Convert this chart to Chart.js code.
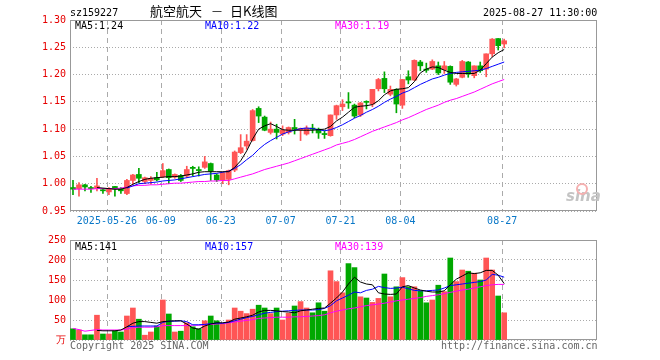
<!DOCTYPE html>
<html>
<head>
<meta charset="utf-8">
<script src="https://cdn.jsdelivr.net/npm/chart.js@4/dist/chart.umd.min.js"></script>
<style>
  body { margin: 0; background: #fff; }
  #wrap { position: relative; width: 660px; height: 360px; font-family: 'DejaVu Sans Mono', monospace; font-size: 10px; }
  #wrap canvas { position: absolute; left: 0; }
  .t { position: absolute; white-space: nowrap; line-height: 12px; }
  .cjk { font-family: 'Noto Sans CJK SC', sans-serif; font-size: 13px; line-height: 14px; }
</style>
</head>
<body>
<div id="wrap">
  <canvas id="kline" width="660" height="230" style="top:0"></canvas>
  <canvas id="vol" width="660" height="130" style="top:230px"></canvas>

  <div class="t" style="left:70px;top:7px">sz159227</div>
  <div class="t cjk" style="left:150px;top:4px">航空航天</div>
  <div class="t" style="left:212px;top:5px;font-family:'DejaVu Sans',sans-serif;font-size:10px">—</div>
  <div class="t cjk" style="left:230px;top:4px">日K线图</div>
  <div class="t" style="left:483px;top:7px">2025-08-27 11:30:00</div>

  <div class="t" style="left:75px;top:20px;color:#000">MA5:1.24</div>
  <div class="t" style="left:205px;top:20px;color:#00f">MA10:1.22</div>
  <div class="t" style="left:335px;top:20px;color:#f0f">MA30:1.19</div>

  <div class="t" style="left:75px;top:241px;color:#000">MA5:141</div>
  <div class="t" style="left:205px;top:241px;color:#00f">MA10:157</div>
  <div class="t" style="left:335px;top:241px;color:#f0f">MA30:139</div>

  <div class="t" style="left:566px;top:190px;font-family:'DejaVu Sans',sans-serif;font-style:italic;font-weight:bold;font-size:15px;color:#c4c4c4">sina</div>
  <div style="position:absolute;left:576px;top:183px;width:8px;height:8px;border:2px solid #f5b0b0;border-radius:50%"></div>

  <div class="t" style="left:70px;top:340px;color:#666">Copyright 2025 SINA.COM</div>
  <div class="t" style="left:441px;top:340px;color:#666">http://finance.sina.com.cn</div>
</div>

<script>
// ---- data ----
const dates = [
  '2025-05-16','2025-05-19','2025-05-20','2025-05-21','2025-05-22','2025-05-23',
  '2025-05-26','2025-05-27','2025-05-28','2025-05-29','2025-05-30',
  '2025-06-03','2025-06-04','2025-06-05','2025-06-06',
  '2025-06-09','2025-06-10','2025-06-11','2025-06-12','2025-06-13',
  '2025-06-16','2025-06-17','2025-06-18','2025-06-19','2025-06-20',
  '2025-06-23','2025-06-24','2025-06-25','2025-06-26','2025-06-27',
  '2025-06-30','2025-07-01','2025-07-02','2025-07-03','2025-07-04',
  '2025-07-07','2025-07-08','2025-07-09','2025-07-10','2025-07-11',
  '2025-07-14','2025-07-15','2025-07-16','2025-07-17','2025-07-18',
  '2025-07-21','2025-07-22','2025-07-23','2025-07-24','2025-07-25',
  '2025-07-28','2025-07-29','2025-07-30','2025-07-31','2025-08-01',
  '2025-08-04','2025-08-05','2025-08-06','2025-08-07','2025-08-08',
  '2025-08-11','2025-08-12','2025-08-13','2025-08-14','2025-08-15',
  '2025-08-18','2025-08-19','2025-08-20','2025-08-21','2025-08-22',
  '2025-08-25','2025-08-26','2025-08-27'
];
const tickDates = ['2025-05-26','2025-06-09','2025-06-23','2025-07-07','2025-07-21','2025-08-04','2025-08-27'];
const tickTexts = ['2025-05-26','06-09','06-23','07-07','07-21','08-04','08-27'];

const opens = [
  0.993,0.991,0.998,0.993,0.991,0.989,0.985,0.995,0.990,0.982,
  1.006,1.017,1.004,1.006,1.011,1.013,1.026,1.012,1.015,1.014,
  1.030,1.026,1.030,1.037,1.016,1.007,1.008,1.025,1.057,1.069,
  1.079,1.138,1.122,1.094,1.100,1.091,1.094,1.103,1.099,1.091,
  1.102,1.100,1.092,1.088,1.126,1.141,1.150,1.144,1.126,1.151,
  1.146,1.174,1.193,1.164,1.173,1.144,1.196,1.190,1.223,1.210,
  1.210,1.216,1.209,1.215,1.182,1.195,1.223,1.198,1.216,1.210,
  1.238,1.266,1.256
];
const highs = [
  1.006,1.002,0.999,0.995,1.010,0.991,0.993,0.995,0.993,1.008,
  1.017,1.028,1.012,1.013,1.021,1.037,1.027,1.018,1.017,1.032,
  1.032,1.031,1.050,1.038,1.018,1.021,1.025,1.060,1.090,1.090,
  1.136,1.141,1.124,1.113,1.109,1.106,1.104,1.118,1.102,1.106,
  1.109,1.102,1.097,1.126,1.144,1.154,1.167,1.146,1.149,1.152,
  1.173,1.193,1.205,1.179,1.174,1.191,1.207,1.227,1.226,1.221,
  1.227,1.223,1.224,1.216,1.193,1.226,1.224,1.216,1.223,1.238,
  1.266,1.266,1.265
];
const lows = [
  0.980,0.977,0.987,0.984,0.987,0.982,0.980,0.977,0.982,0.980,
  0.999,1.002,1.000,0.999,1.005,1.011,1.000,1.010,1.004,1.011,
  1.014,1.014,1.028,1.006,1.004,1.000,0.998,1.022,1.055,1.063,
  1.078,1.112,1.097,1.091,1.082,1.088,1.091,1.091,1.079,1.089,
  1.093,1.083,1.083,1.087,1.118,1.134,1.138,1.121,1.123,1.137,
  1.141,1.170,1.167,1.161,1.130,1.138,1.183,1.189,1.207,1.204,
  1.209,1.200,1.202,1.182,1.179,1.194,1.195,1.194,1.204,1.196,
  1.233,1.245,1.249
];
const closes = [
  0.990,0.998,0.994,0.991,0.996,0.987,0.991,0.990,0.987,1.006,
  1.016,1.010,1.011,1.010,1.007,1.024,1.011,1.017,1.006,1.026,
  1.028,1.024,1.040,1.023,1.007,1.020,1.024,1.058,1.066,1.078,
  1.134,1.124,1.098,1.100,1.094,1.098,1.103,1.100,1.101,1.102,
  1.100,1.093,1.090,1.126,1.143,1.146,1.148,1.124,1.148,1.149,
  1.173,1.191,1.174,1.173,1.146,1.191,1.190,1.226,1.216,1.208,
  1.224,1.203,1.216,1.186,1.192,1.224,1.201,1.216,1.207,1.238,
  1.265,1.253,1.262
];
const ma5 = [
  null,null,null,null,0.993,0.992,0.991,0.990,0.990,0.993,
  0.999,1.004,1.008,1.010,1.011,1.012,1.013,1.013,1.014,1.016,
  1.018,1.021,1.022,1.022,1.022,1.022,1.022,1.030,1.042,1.060,
  1.082,1.100,1.106,1.110,1.105,1.099,1.098,1.098,1.098,1.098,
  1.098,1.099,1.100,1.105,1.115,1.122,1.131,1.140,1.142,1.143,
  1.145,1.152,1.163,1.170,1.173,1.174,1.176,1.187,1.203,1.210,
  1.214,1.213,1.208,1.204,1.202,1.202,1.202,1.202,1.208,1.220,
  1.232,1.240,1.246
];
const ma10 = [
  null,null,null,null,null,null,null,null,null,0.992,
  0.996,1.000,1.001,1.002,1.003,1.005,1.006,1.007,1.009,1.011,
  1.013,1.015,1.017,1.018,1.019,1.021,1.023,1.028,1.035,1.044,
  1.052,1.063,1.072,1.079,1.085,1.091,1.095,1.098,1.101,1.102,
  1.101,1.099,1.097,1.099,1.103,1.108,1.114,1.120,1.125,1.131,
  1.136,1.142,1.149,1.155,1.160,1.166,1.170,1.176,1.182,1.187,
  1.192,1.195,1.199,1.202,1.204,1.205,1.206,1.207,1.208,1.211,
  1.215,1.219,1.223
];
const ma30 = [
  0.990,0.990,0.990,0.990,0.991,0.991,0.991,0.991,0.992,0.994,
  0.996,0.997,0.997,0.998,0.998,0.999,1.000,1.001,1.001,1.002,
  1.003,1.004,1.004,1.005,1.005,1.006,1.006,1.009,1.012,1.015,
  1.018,1.022,1.026,1.029,1.032,1.035,1.038,1.042,1.046,1.050,
  1.054,1.058,1.062,1.066,1.071,1.074,1.077,1.081,1.086,1.091,
  1.096,1.100,1.104,1.108,1.112,1.117,1.121,1.126,1.131,1.136,
  1.140,1.144,1.149,1.153,1.156,1.160,1.164,1.168,1.173,1.178,
  1.183,1.187,1.191
];

// volume, unit 万
const volumes = [
  28,25,13,13,62,15,15,23,20,60,
  80,52,12,20,35,100,65,20,22,43,
  33,28,48,60,48,40,50,80,72,66,
  77,87,80,66,80,50,67,85,96,80,
  68,93,72,173,146,118,191,181,108,105,
  94,104,165,108,133,156,133,133,123,93,
  100,137,121,205,146,175,172,167,150,205,
  175,110,68
];
const vma5 = [
  null,null,null,null,24,23,23,23,25,33,
  42,46,46,44,42,46,47,48,48,40,
  30,27,35,40,43,43,45,52,55,58,
  62,70,74,74,73,71,70,68,73,75,
  77,79,80,92,105,120,140,157,145,140,
  138,118,115,114,115,133,136,130,125,122,
  120,120,123,138,152,160,168,166,168,174,
  174,162,141
];
const vma10 = [
  null,null,null,null,null,null,null,null,null,33,
  34,35,35,35,35,44,47,47,48,46,
  38,38,39,41,42,42,44,48,52,56,
  59,63,67,69,71,72,73,74,75,75,
  75,76,79,86,98,105,112,120,118,124,
  127,134,131,129,130,132,128,124,123,123,
  124,125,130,136,138,140,142,144,146,150,
  164,162,157
];
const vma30 = [
  29,26,22,24,26,25,25,25,25,27,
  31,32,32,32,33,36,36,36,36,36,
  37,37,38,39,40,41,43,45,47,49,
  51,54,55,56,57,57,57,58,58,59,
  60,61,63,68,72,75,78,80,83,86,
  88,90,92,95,98,100,102,104,106,109,
  111,113,116,119,122,125,127,130,133,136,
  138,139,139
];

// ---- styling ----
const SLOTS = 88;                 // 73 trading days + empty space on the right
const UP = '#ff5555', DOWN = '#00a800';
const MONO = "'DejaVu Sans Mono', monospace";
const labels = dates.concat(new Array(SLOTS - dates.length).fill(''));
const candleColors = closes.map((c, i) => c >= opens[i] ? UP : DOWN);

// dashed date lines + the grey frame
const frame = {
  id: 'frame',
  beforeDatasetsDraw(chart) {
    const { ctx, chartArea: a, scales: { x } } = chart;
    ctx.save();
    ctx.strokeStyle = '#aaa';
    ctx.lineWidth = 1;
    ctx.setLineDash([5, 4]);
    tickDates.forEach(d => {
      const px = Math.round(x.getPixelForValue(dates.indexOf(d)) - 2) + 0.5;
      ctx.beginPath(); ctx.moveTo(px, a.top); ctx.lineTo(px, a.bottom); ctx.stroke();
    });
    ctx.setLineDash([]);
    ctx.strokeStyle = '#999';
    ctx.strokeRect(a.left + 0.5, a.top + 0.5, a.width - 1, a.height - 1);
    ctx.restore();
  }
};

const lineDs = (data, color) => ({
  type: 'line', data, borderColor: color, borderWidth: 1,
  pointRadius: 0, fill: false, tension: 0, spanGaps: false, order: 0
});

const yAxis = (min, max, step, fmt) => ({
  min, max,
  afterFit(s) { s.width = 70; },
  ticks: { stepSize: step, color: '#e60000', font: { family: MONO, size: 10 }, padding: 4, callback: fmt },
  grid: { color: '#aaa', drawTicks: false, lineWidth: 1 },
  border: { display: false, dash: [1, 2] }
});

Chart.defaults.animation = false;

new Chart(document.getElementById('kline'), {
  type: 'bar',
  data: {
    labels,
    datasets: [
      lineDs(ma5, '#000'),
      lineDs(ma10, '#00f'),
      lineDs(ma30, '#f0f'),
      { data: opens.map((o, i) => [o, closes[i]]), backgroundColor: candleColors,
        barThickness: 5, grouped: false, borderWidth: 0, order: 1 },
      { data: lows.map((l, i) => [l, highs[i]]), backgroundColor: candleColors,
        barThickness: 1, grouped: false, borderWidth: 0, order: 2 }
    ]
  },
  options: {
    responsive: false,
    layout: { padding: { top: 20, right: 63, left: 0, bottom: 0 } },
    plugins: { legend: { display: false }, tooltip: { enabled: false } },
    scales: {
      x: {
        afterFit(s) { s.height = 19; },
        grid: { display: false, drawTicks: false },
        border: { display: false },
        ticks: {
          autoSkip: false, maxRotation: 0, minRotation: 0, padding: 4, labelOffset: -2,
          color: '#0a78c8', font: { family: MONO, size: 10 },
          callback(v, i) { const j = tickDates.indexOf(dates[i]); return j < 0 ? '' : tickTexts[j]; }
        }
      },
      y: yAxis(0.95, 1.30, 0.05, v => v.toFixed(2))
    }
  },
  plugins: [frame]
});

new Chart(document.getElementById('vol'), {
  type: 'bar',
  data: {
    labels,
    datasets: [
      lineDs(vma5, '#000'),
      lineDs(vma10, '#00f'),
      lineDs(vma30, '#f0f'),
      { data: volumes, backgroundColor: candleColors, barThickness: 5, grouped: false, borderWidth: 0, order: 1 }
    ]
  },
  options: {
    responsive: false,
    layout: { padding: { top: 10, right: 63, left: 0, bottom: 20 } },
    plugins: { legend: { display: false }, tooltip: { enabled: false } },
    scales: {
      x: {
        afterFit(s) { s.height = 0; },
        grid: { display: false, drawTicks: false },
        border: { display: false },
        ticks: { display: false, autoSkip: false }
      },
      y: yAxis(0, 250, 50, v => v === 0 ? '万' : v)
    }
  },
  plugins: [frame]
});
</script>
</body>
</html>
